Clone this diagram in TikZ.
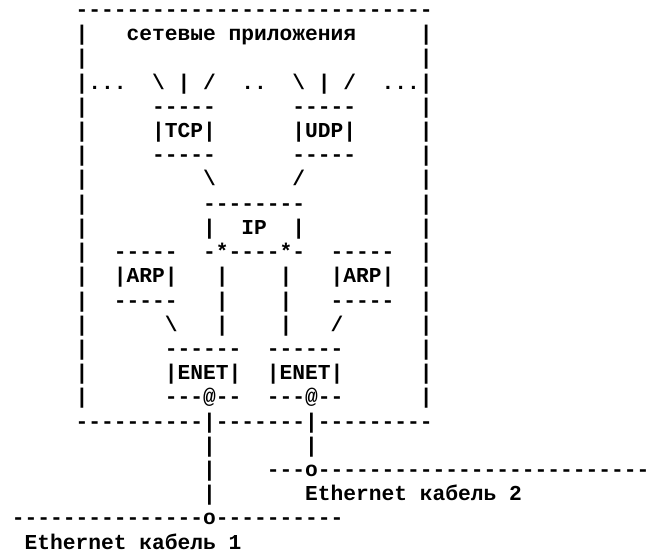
\documentclass[tikz,border=0pt]{standalone}
\usepackage{fontspec}
\setmonofont{Liberation Mono}
\tikzset{
  asc/.style={anchor=base west, inner sep=0pt, outer sep=0pt,
    font=\ttfamily\bfseries\fontsize{21.25}{24}\selectfont, text=black},
}
\newcommand{\bs}{\textbackslash}
\begin{document}
\begin{tikzpicture}[x=12.75pt, y=24.2pt]
\useasboundingbox (-75.6pt,16.6pt) rectangle (576.4pt,-536.4pt);
% box top
\node[asc] (top) at (0,0) {----------------------------};
% row 1
\node[asc] (l1) at (0,-1) {|};
\node[asc] (apps) at (4,-1) {сетевые приложения};
\node[asc] (r1) at (27,-1) {|};
% row 2
\node[asc] (l2) at (0,-2) {|};
\node[asc] (r2) at (27,-2) {|};
% row 3
\node[asc] (l3) at (0,-3) {|...};
\node[asc] (fan1) at (6,-3) {\bs{} | /};
\node[asc] (dots) at (13,-3) {..};
\node[asc] (fan2) at (17,-3) {\bs{} | /};
\node[asc] (r3) at (24,-3) {...|};
% row 4
\node[asc] (l4) at (0,-4) {|};
\node[asc] (tcptop) at (6,-4) {-----};
\node[asc] (udptop) at (17,-4) {-----};
\node[asc] (r4) at (27,-4) {|};
% row 5
\node[asc] (l5) at (0,-5) {|};
\node[asc] (tcp) at (6,-5) {|TCP|};
\node[asc] (udp) at (17,-5) {|UDP|};
\node[asc] (r5) at (27,-5) {|};
% row 6
\node[asc] (l6) at (0,-6) {|};
\node[asc] (tcpbot) at (6,-6) {-----};
\node[asc] (udpbot) at (17,-6) {-----};
\node[asc] (r6) at (27,-6) {|};
% row 7
\node[asc] (l7) at (0,-7) {|};
\node[asc] (tcpip) at (10,-7) {\bs};
\node[asc] (udpip) at (17,-7) {/};
\node[asc] (r7) at (27,-7) {|};
% row 8
\node[asc] (l8) at (0,-8) {|};
\node[asc] (iptop) at (10,-8) {--------};
\node[asc] (r8) at (27,-8) {|};
% row 9
\node[asc] (l9) at (0,-9) {|};
\node[asc] (ipl) at (10,-9) {|};
\node[asc] (ip) at (13,-9) {IP};
\node[asc] (ipr) at (17,-9) {|};
\node[asc] (r9) at (27,-9) {|};
% row 10
\node[asc] (l10) at (0,-10) {|};
\node[asc] (arp1top) at (3,-10) {-----};
\node[asc] (ipbot) at (10,-10) {-*----*-};
\node[asc] (arp2top) at (20,-10) {-----};
\node[asc] (r10) at (27,-10) {|};
% row 11
\node[asc] (l11) at (0,-11) {|};
\node[asc] (arp1) at (3,-11) {|ARP|};
\node[asc] (v11a) at (11,-11) {|};
\node[asc] (v11b) at (16,-11) {|};
\node[asc] (arp2) at (20,-11) {|ARP|};
\node[asc] (r11) at (27,-11) {|};
% row 12
\node[asc] (l12) at (0,-12) {|};
\node[asc] (arp1bot) at (3,-12) {-----};
\node[asc] (v12a) at (11,-12) {|};
\node[asc] (v12b) at (16,-12) {|};
\node[asc] (arp2bot) at (20,-12) {-----};
\node[asc] (r12) at (27,-12) {|};
% row 13
\node[asc] (l13) at (0,-13) {|};
\node[asc] (arp1en) at (7,-13) {\bs};
\node[asc] (v13a) at (11,-13) {|};
\node[asc] (v13b) at (16,-13) {|};
\node[asc] (arp2en) at (20,-13) {/};
\node[asc] (r13) at (27,-13) {|};
% row 14
\node[asc] (l14) at (0,-14) {|};
\node[asc] (en1top) at (7,-14) {------};
\node[asc] (en2top) at (15,-14) {------};
\node[asc] (r14) at (27,-14) {|};
% row 15
\node[asc] (l15) at (0,-15) {|};
\node[asc] (en1) at (7,-15) {|ENET|};
\node[asc] (en2) at (15,-15) {|ENET|};
\node[asc] (r15) at (27,-15) {|};
% row 16
\node[asc] (l16) at (0,-16) {|};
\node[asc] (en1bot) at (7,-16) {---@--};
\node[asc] (en2bot) at (15,-16) {---@--};
\node[asc] (r16) at (27,-16) {|};
% row 17
\node[asc] (bottom) at (0,-17) {----------|-------|---------};
% row 18
\node[asc] (c1a) at (10,-18) {|};
\node[asc] (c2a) at (18,-18) {|};
% row 19
\node[asc] (c1b) at (10,-19) {|};
\node[asc] (cable2) at (15,-19) {---o--------------------------};
% row 20
\node[asc] (c1c) at (10,-20) {|};
\node[asc] (lab2) at (18,-20) {Ethernet кабель 2};
% row 21
\node[asc] (cable1) at (-5,-21) {---------------o----------};
% row 22
\node[asc] (lab1) at (-4,-22) {Ethernet кабель 1};
\end{tikzpicture}
\end{document}
